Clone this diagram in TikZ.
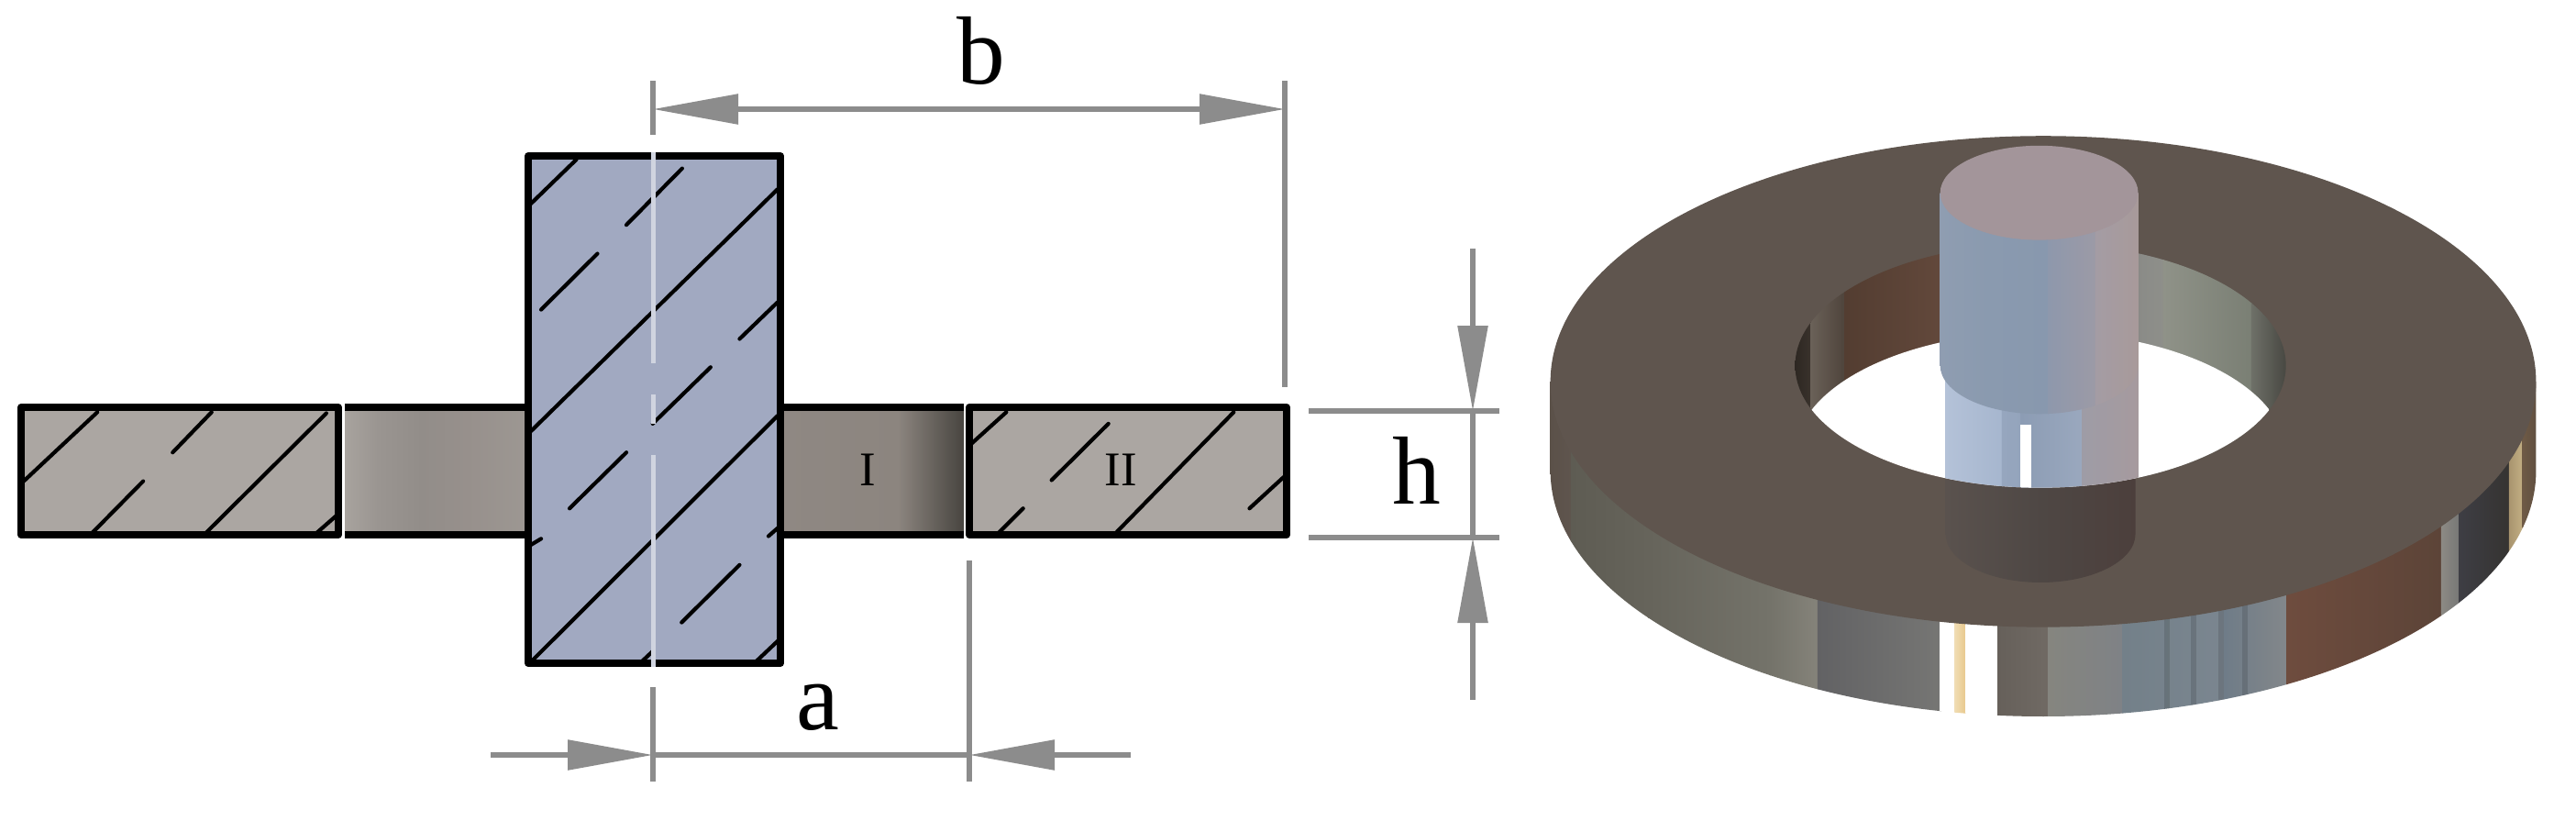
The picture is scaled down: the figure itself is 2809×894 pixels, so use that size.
\documentclass[tikz,border=0pt]{standalone}
\usepackage{fontspec}
\setmainfont{Liberation Serif}
\usetikzlibrary{arrows.meta}
\definecolor{dimgray}{HTML}{8C8C8C}
\definecolor{ringsec}{HTML}{ABA6A2}
\definecolor{pinsec}{HTML}{A1A9C1}
\definecolor{ringface}{HTML}{5F554E}
\definecolor{pintop}{HTML}{A3959A}
\newcommand{\vband}[4]{\definecolor{sl}{HTML}{#3}\definecolor{sr}{HTML}{#4}\path[left color=sl,right color=sr] (#1,-100) rectangle (#2,1700);}
\tikzset{
  outline/.style={line width=0.8mm,draw=black,line join=round},
  hatch/.style={line width=0.42mm,draw=black,line cap=round},
  dimline/.style={line width=0.55mm,draw=dimgray},
  dimtip/.style={dimline,-{Triangle[length=9.3mm,width=3.2mm,fill=dimgray]}},
  dimboth/.style={dimline,{Triangle[length=9.3mm,width=3.2mm,fill=dimgray]}-{Triangle[length=9.3mm,width=3.2mm,fill=dimgray]}},
  biglabel/.style={font=\fontsize{30}{36}\selectfont,anchor=base,inner sep=0pt},
  smalllabel/.style={font=\fontsize{15}{18}\selectfont,anchor=base,inner sep=0pt},
}
\begin{document}
\begin{tikzpicture}[x=0.1mm,y=-0.1mm]
\useasboundingbox[fill=white] (0,0) rectangle (2809,894);
% ---- section: ring fills
\fill[ringsec] (23,444) rectangle (369,583);
\begin{scope}
 \clip (376,444) rectangle (580,583);
 \vband{376}{412}{A8A39E}{9A9591}
 \vband{411}{460}{9A9591}{928D89}
 \vband{459}{510}{928D89}{97908C}
 \vband{509}{580}{97908C}{9D9893}
\end{scope}
\begin{scope}
 \clip (851,444) rectangle (1051,583);
 \vband{851}{980}{8F8883}{8C857F}
 \vband{979}{1052}{8C857F}{47443F}
\end{scope}
\fill[ringsec] (1057,444) rectangle (1403,583);
\draw[outline] (376,444) -- (1051,444);
\draw[outline] (376,583) -- (1051,583);
% ---- section: pin
\fill[pinsec] (576,170) rectangle (851,723);
% hatching, in the scale of the enlarged crops
\begin{scope}[xscale=0.57398,yscale=0.5702]
 \foreach \xa/\ya/\xb/\yb in {45/920/185/788,328/865/402/788,172/1022/272/920,390/1020/620/790,598/1022/640/985,
  1008/390/1095/305,1190/430/1296/322,1028/592/1135/485,1008/825/1477/362,1405/648/1477/578,1240/810/1350/702,
  1082/972/1190/865,1012/1262/1477/795,1295/1190/1405/1080,1008/1042/1028/1030,1460/1025/1477/1010,
  1218/1266/1240/1245,1435/1266/1478/1225}
  \draw[hatch] (\xa,\ya) -- (\xb,\yb);
\end{scope}
\begin{scope}[shift={(800,0)},xscale=0.57398,yscale=0.5702]
 \foreach \xa/\ya/\xb/\yb in {452/848/518/788,604/918/712/810,500/1022/550/972,725/1020/950/788,980/972/1045/912}
  \draw[hatch] (\xa,\ya) -- (\xb,\yb);
\end{scope}
\draw[outline] (23,444) rectangle (369,583);
\draw[outline] (1057,444) rectangle (1403,583);
\draw[outline] (576,170) rectangle (851,723);
\draw[line width=0.5mm,draw=white!50!pinsec] (712,166) -- (712,396);
\draw[line width=0.5mm,draw=white!50!pinsec] (712,430) -- (712,462);
\draw[line width=0.5mm,draw=white!50!pinsec] (712,496) -- (712,727);
% ---- dimensions
\coordinate (bL) at (712,119); \coordinate (bR) at (1401,119);
\coordinate (bLt) at (712,88); \coordinate (bLb) at (712,147);
\coordinate (bRt) at (1401,88); \coordinate (bRb) at (1401,422);
\coordinate (aL) at (712,823); \coordinate (aR) at (1057,823);
\coordinate (aLs) at (535,823); \coordinate (aRs) at (1233,823);
\coordinate (aLt) at (712,749); \coordinate (aLb) at (712,852);
\coordinate (aRt) at (1057,611); \coordinate (aRb) at (1057,852);
\coordinate (hT) at (1606,448); \coordinate (hB) at (1606,586);
\coordinate (hTs) at (1606,271); \coordinate (hBs) at (1606,763);
\coordinate (hTa) at (1427,448); \coordinate (hTe) at (1635,448);
\coordinate (hBa) at (1427,586); \coordinate (hBe) at (1635,586);
\draw[dimline] (bLt) -- (bLb);
\draw[dimline] (bRt) -- (bRb);
\draw[dimline] (aLt) -- (aLb);
\draw[dimline] (aRt) -- (aRb);
\draw[dimline] (hTa) -- (hTe);
\draw[dimline] (hBa) -- (hBe);
\draw[dimline] (hT) -- (hB);
\draw[dimline] (aL) -- (aR);
\draw[dimboth] (bL) -- (bR);
\draw[dimtip] (aLs) -- (aL);
\draw[dimtip] (aRs) -- (aR);
\draw[dimtip] (hTs) -- (hT);
\draw[dimtip] (hBs) -- (hB);
\node[biglabel] (lblb) at (1070,91) {b};
\node[biglabel] (lbla) at (892,795) {a};
\node[biglabel] (lblh) at (1545,549) {h};
\node[smalllabel] (lblI) at (946,529) {I};
\node[smalllabel] (lblII) at (1222,529) {II};
% ---- perspective view, in the scale of the enlarged crop
\begin{scope}[shift={(1650,100)},xscale=0.73916,yscale=0.4592]
 % outer side wall
 \begin{scope}
  \clip (55,688) -- (55,900) arc[start angle=180,end angle=0,x radius=727,y radius=583] -- (1509,688) -- cycle;
  \vband{50}{86}{5A5048}{5F554E}
  \vband{85}{200}{5E5C53}{66645B}
  \vband{199}{380}{66645B}{74736A}
  \vband{379}{450}{74736A}{85837A}
  \vband{449}{632}{626264}{767674}
  \vband{630}{652}{FFFFFF}{FFFFFF}
  \vband{651}{668}{F0DDB4}{E8C88C}
  \vband{667}{716}{FFFFFF}{FFFFFF}
  \vband{715}{790}{66605A}{706A64}
  \vband{789}{900}{85857F}{7F8286}
  \vband{899}{1050}{738089}{7B8690}
  \vband{1049}{1142}{6F7C88}{83878A}
  \vband{1141}{1370}{6E4C3E}{5C4438}
  \vband{1369}{1396}{8C8A84}{777776}
  \vband{1395}{1470}{3E3E44}{353331}
  \vband{1469}{1490}{A8946E}{C4B085}
  \vband{1489}{1512}{6E5A46}{5F4E40}
  \foreach \sx in {960,1000,1040,1075} \fill[black,opacity=0.12] (\sx,1100) rectangle (\sx+8,1500);
 \end{scope}
 % top face
 \fill[ringface] (782,688) ellipse[x radius=727,y radius=583];
 % pin seen through the face
 \begin{scope}
  \clip (638,800) -- (638,1050) arc[start angle=180,end angle=0,x radius=140,y radius=115] -- (918,800) -- cycle;
  \vband{638}{780}{5A524E}{4E4744}
  \vband{779}{920}{4E4744}{4C3F3C}
 \end{scope}
 % hole: inner wall
 \begin{scope}
  \clip (778,650) ellipse[x radius=362,y radius=290];
  \vband{410}{440}{2A2520}{3A322C}
  \vband{439}{490}{6A6158}{4E433B}
  \vband{489}{640}{533D31}{63493C}
  \vband{639}{930}{63493C}{8B8C88}
  \vband{929}{960}{8B8C88}{8E8F8A}
  \vband{959}{1090}{8F9288}{7A7F74}
  \vband{1089}{1145}{6E7068}{45443F}
  \fill[white] (778,860) ellipse[x radius=362,y radius=290];
  % lower part of the pin, inside the hole
  \begin{scope}
   \clip (638,600) rectangle (922,1000);
   \vband{638}{722}{B4C2D8}{A6B6CE}
   \vband{721}{750}{96A6BE}{94A4BC}
   \vband{749}{840}{8C9CB4}{9AA8BE}
   \vband{839}{922}{9E9CA6}{A69A9E}
  \end{scope}
  \fill[white] (748,790) rectangle (764,1000);
 \end{scope}
 % upper part of the pin
 \begin{scope}
  \clip (630,240) -- (630,650) arc[start angle=180,end angle=0,x radius=146,y radius=115] -- (922,240) -- cycle;
  \vband{630}{700}{8F9DB1}{8A9AAF}
  \vband{699}{790}{8A9AAF}{8898AE}
  \vband{789}{860}{8E98AC}{9C9AA6}
  \vband{859}{922}{A49CA4}{A89A9A}
 \end{scope}
 \fill[pintop] (776,240) ellipse[x radius=146,y radius=112];
\end{scope}
\end{tikzpicture}
\end{document}
